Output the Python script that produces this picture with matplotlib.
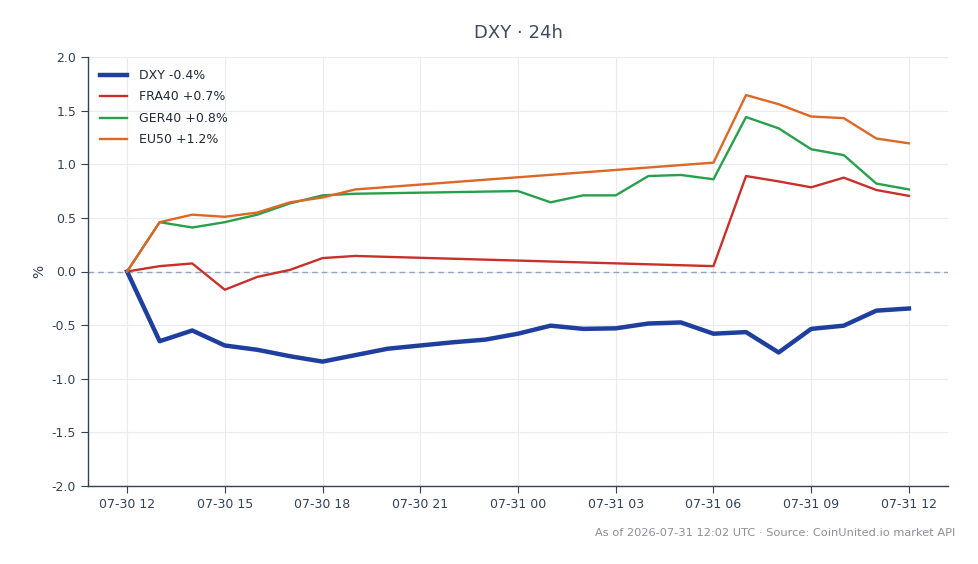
import matplotlib
matplotlib.use("Agg")
import matplotlib.pyplot as plt
import matplotlib.dates as mdates
import numpy as np
import pandas as pd

start = pd.Timestamp("2026-07-30 12:00")

# hours since start for each series
dxy_h = list(range(0, 25))
dxy_v = [0.0, -0.65, -0.55, -0.69, -0.73, -0.79, -0.84, -0.78, -0.72, -0.69, -0.66, -0.635,
         -0.58, -0.505, -0.535, -0.53, -0.485, -0.475, -0.58, -0.565, -0.755, -0.535, -0.505,
         -0.365, -0.345]

fra_h = [0, 1, 2, 3, 4, 5, 6, 7, 18, 19, 20, 21, 22, 23, 24]
fra_v = [0.0, 0.05, 0.075, -0.17, -0.05, 0.015, 0.125, 0.145, 0.05, 0.89, 0.84, 0.785, 0.875, 0.76, 0.705]

ger_h = [0, 1, 2, 3, 4, 5, 6, 7, 12, 13, 14, 15, 16, 17, 18, 19, 20, 21, 22, 23, 24]
ger_v = [0.0, 0.46, 0.41, 0.46, 0.53, 0.635, 0.71, 0.725, 0.75, 0.645, 0.71, 0.71, 0.89, 0.90,
         0.86, 1.44, 1.335, 1.14, 1.085, 0.82, 0.765]

eu_h = [0, 1, 2, 3, 4, 5, 6, 7, 18, 19, 20, 21, 22, 23, 24]
eu_v = [0.0, 0.46, 0.53, 0.51, 0.55, 0.645, 0.69, 0.765, 1.015, 1.645, 1.56, 1.445, 1.43, 1.24, 1.195]

labels = ["DXY -0.4%", "FRA40 +0.7%", "GER40 +0.8%", "EU50 +1.2%"]
colors = ["#1f3f9e", "#c9302c", "#27a04c", "#dd6724"]
widths = [3.2, 1.7, 1.7, 1.7]

def tt(hours):
    return [start + pd.Timedelta(hours=h) for h in hours]

fig = plt.figure(figsize=(9.79, 5.64), dpi=100)
ax = fig.add_axes([88/979, 1-486/564, (948-88)/979, (486-57)/564])

series = [(dxy_h, dxy_v), (fra_h, fra_v), (ger_h, ger_v), (eu_h, eu_v)]
for (h, v), lab, c, w in zip(series, labels, colors, widths):
    ax.plot(tt(h), v, color=c, lw=w, label=lab, zorder=3)

ax.axhline(0, color="#94a3b8", lw=1, ls=(0, (4, 3)), zorder=2)

ax.set_ylim(-2.0, 2.0)
ax.set_yticks(np.arange(-2.0, 2.01, 0.5))
ax.set_yticklabels([f"{v:.1f}" for v in np.arange(-2.0, 2.01, 0.5)])
ax.set_xlim(start - pd.Timedelta(hours=1.2), start + pd.Timedelta(hours=25.2))
ax.xaxis.set_major_locator(mdates.HourLocator(byhour=[0, 3, 6, 9, 12, 15, 18, 21]))
ax.xaxis.set_major_formatter(mdates.DateFormatter("%m-%d %H"))

ax.grid(True, color="#e8ebef", lw=0.8, zorder=0)
for s in ["top", "right"]:
    ax.spines[s].set_visible(False)
for s in ["left", "bottom"]:
    ax.spines[s].set_color("#334155")
    ax.spines[s].set_linewidth(1.0)
ax.tick_params(colors="#334155", labelsize=9, length=5)
ax.set_ylabel("%", color="#334155", fontsize=10)
ax.set_title("DXY · 24h", color="#3f4a5a", fontsize=13, pad=14)

leg = ax.legend(loc="upper left", frameon=False, fontsize=9, handlelength=2.2,
                borderaxespad=0.55, labelspacing=0.68, handletextpad=0.9)
for t in leg.get_texts():
    t.set_color("#1f2937")

fig.text(955/979, 1-533/564, "As of 2026-07-31 12:02 UTC · Source: CoinUnited.io market API",
         ha="right", va="center", fontsize=8.2, color="#8a8f98")

fig.savefig("out.png", dpi=100)
